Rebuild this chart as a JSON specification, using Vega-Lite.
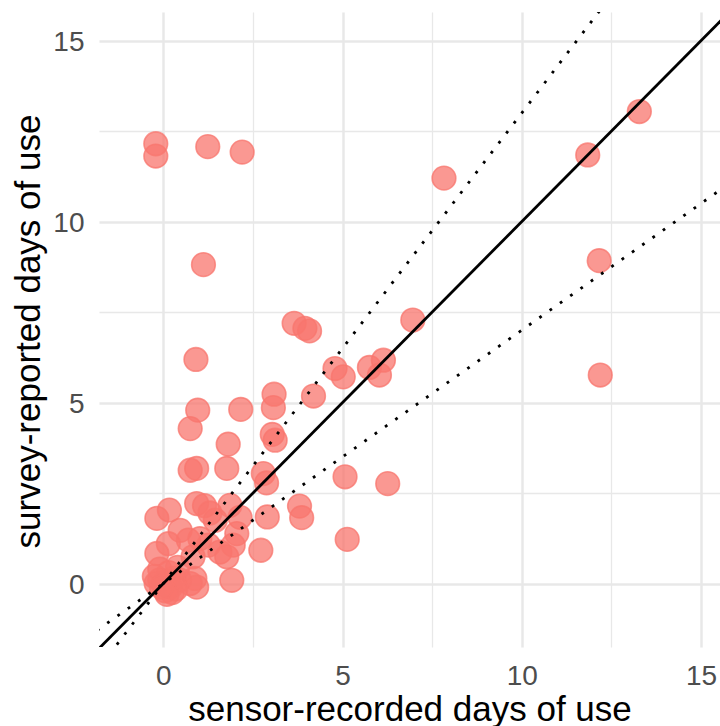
{
  "$schema": "https://vega.github.io/schema/vega-lite/v6.json",
  "width": 621,
  "height": 635,
  "autosize": {"type": "none"},
  "padding": {"left": 99, "top": 12, "right": 0, "bottom": 79},
  "background": "white",
  "config": {
    "view": {"stroke": null},
    "font": "Liberation Sans",
    "axis": {
      "domain": false,
      "ticks": false,
      "gridColor": "#E8E8E8",
      "labelFont": "Liberation Sans",
      "labelFontSize": 28,
      "labelColor": "#4D4D4D",
      "labelPadding": 15,
      "titleFont": "Liberation Sans",
      "titleFontSize": 35,
      "titleFontWeight": "normal",
      "titleColor": "#000000"
    }
  },
  "datasets": {
    "pts": [
      {"sensor": -0.21, "survey": 12.15}, {"sensor": -0.21, "survey": 11.81},
      {"sensor": 1.24, "survey": 12.07}, {"sensor": 2.2, "survey": 11.92},
      {"sensor": 1.12, "survey": 8.81}, {"sensor": 7.83, "survey": 11.2},
      {"sensor": 11.84, "survey": 11.84}, {"sensor": 13.28, "survey": 13.04},
      {"sensor": 12.16, "survey": 8.92}, {"sensor": 12.19, "survey": 5.76},
      {"sensor": 3.65, "survey": 7.19}, {"sensor": 3.95, "survey": 7.05},
      {"sensor": 4.08, "survey": 6.98}, {"sensor": 6.96, "survey": 7.28},
      {"sensor": 4.79, "survey": 5.94}, {"sensor": 5.02, "survey": 5.71},
      {"sensor": 5.75, "survey": 5.97}, {"sensor": 6.14, "survey": 6.17},
      {"sensor": 6.03, "survey": 5.76}, {"sensor": 4.19, "survey": 5.18},
      {"sensor": 0.91, "survey": 6.19}, {"sensor": 0.96, "survey": 4.79},
      {"sensor": 0.75, "survey": 4.28}, {"sensor": 2.16, "survey": 4.81},
      {"sensor": 3.09, "survey": 5.23}, {"sensor": 3.07, "survey": 4.86},
      {"sensor": 3.04, "survey": 4.12}, {"sensor": 3.12, "survey": 3.96},
      {"sensor": 1.81, "survey": 3.85}, {"sensor": 0.75, "survey": 3.13},
      {"sensor": 0.93, "survey": 3.18}, {"sensor": 1.77, "survey": 3.18},
      {"sensor": 2.79, "survey": 3.04}, {"sensor": 2.88, "survey": 2.78},
      {"sensor": 5.07, "survey": 2.95}, {"sensor": 6.26, "survey": 2.76},
      {"sensor": 3.8, "survey": 2.14}, {"sensor": 3.86, "survey": 1.82},
      {"sensor": 2.9, "survey": 1.84}, {"sensor": 2.72, "survey": 0.92},
      {"sensor": 5.13, "survey": 1.22}, {"sensor": 2.14, "survey": 1.83},
      {"sensor": 2.05, "survey": 1.38},
      {"sensor": -0.18, "survey": 1.8}, {"sensor": 0.17, "survey": 2.03},
      {"sensor": 0.93, "survey": 2.21}, {"sensor": 1.15, "survey": 2.15},
      {"sensor": 1.86, "survey": 2.16}, {"sensor": 1.45, "survey": 1.75},
      {"sensor": 1.3, "survey": 1.95}, {"sensor": 0.47, "survey": 1.47},
      {"sensor": 1.02, "survey": 1.24}, {"sensor": 1.26, "survey": 1.06},
      {"sensor": 0.7, "survey": 1.2}, {"sensor": 0.14, "survey": 1.1},
      {"sensor": -0.18, "survey": 0.83}, {"sensor": 1.58, "survey": 0.87},
      {"sensor": 1.95, "survey": 1.06}, {"sensor": 1.77, "survey": 0.74},
      {"sensor": 0.83, "survey": 0.74}, {"sensor": 0.88, "survey": 0.14},
      {"sensor": 0.93, "survey": -0.1}, {"sensor": 1.91, "survey": 0.09},
      {"sensor": 0.75, "survey": 0.0},
      {"sensor": 0.0, "survey": 0.0}, {"sensor": 0.1, "survey": 0.05},
      {"sensor": -0.1, "survey": 0.1}, {"sensor": 0.2, "survey": -0.1},
      {"sensor": 0.05, "survey": -0.2}, {"sensor": -0.2, "survey": 0.0},
      {"sensor": 0.3, "survey": 0.15}, {"sensor": 0.15, "survey": 0.3},
      {"sensor": 0.45, "survey": 0.1}, {"sensor": 0.25, "survey": -0.25},
      {"sensor": -0.1, "survey": 0.4}, {"sensor": 0.35, "survey": -0.15},
      {"sensor": -0.25, "survey": 0.2}, {"sensor": 0.1, "survey": -0.3},
      {"sensor": 0.4, "survey": 0.45}, {"sensor": -0.05, "survey": -0.1}
    ],
    "lines": [
      {"line": "equal", "sx": -3, "sy": -3},
      {"line": "equal", "sx": 17, "sy": 17},
      {"line": "upper", "sx": -3, "sy": -3.9},
      {"line": "upper", "sx": 14, "sy": 18.2},
      {"line": "lower", "sx": -3, "sy": -2.1},
      {"line": "lower", "sx": 17, "sy": 11.9}
    ]
  },
  "encoding": {
    "x": {
      "field": "sensor", "type": "quantitative",
      "scale": {"domain": [-1.794, 15.53], "nice": false, "zero": false},
      "axis": {
        "title": "sensor-recorded days of use",
        "values": [0, 2.5, 5, 7.5, 10, 12.5, 15],
        "labelExpr": "datum.value % 5 === 0 ? datum.label : ''",
        "gridWidth": {"condition": {"test": "datum.value % 5 === 0", "value": 2.5}, "value": 1.3},
        "labelBaseline": "top",
        "titleBaseline": "alphabetic",
        "titleY": 73
      }
    },
    "y": {
      "field": "survey", "type": "quantitative",
      "scale": {"domain": [-1.753, 15.79], "nice": false, "zero": false},
      "axis": {
        "title": "survey-reported days of use",
        "values": [0, 2.5, 5, 7.5, 10, 12.5, 15],
        "labelExpr": "datum.value % 5 === 0 ? datum.label : ''",
        "gridWidth": {"condition": {"test": "datum.value % 5 === 0", "value": 2.5}, "value": 1.3},
        "labelBaseline": "alphabetic",
        "labelOffset": 10,
        "titleAngle": -90,
        "titleBaseline": "alphabetic",
        "titleX": -59.5,
        "titleY": 319
      }
    }
  },
  "layer": [
    {
      "data": {"name": "pts"},
      "mark": {
        "type": "point", "shape": "circle", "filled": true,
        "size": 560, "fill": "#F8766D", "fillOpacity": 0.75,
        "stroke": "#F8766D", "strokeOpacity": 0.75, "strokeWidth": 1.6
      }
    },
    {
      "data": {"name": "lines"},
      "transform": [{"filter": "datum.line === 'equal'"}],
      "mark": {"type": "line", "color": "#000000", "strokeWidth": 2.8, "clip": true},
      "encoding": {
        "x": {"field": "sx", "type": "quantitative"},
        "y": {"field": "sy", "type": "quantitative"},
        "detail": {"field": "line"}
      }
    },
    {
      "data": {"name": "lines"},
      "transform": [{"filter": "datum.line !== 'equal'"}],
      "mark": {"type": "line", "color": "#000000", "strokeWidth": 2.8, "strokeDash": [2.8, 9.8], "clip": true},
      "encoding": {
        "x": {"field": "sx", "type": "quantitative"},
        "y": {"field": "sy", "type": "quantitative"},
        "detail": {"field": "line"}
      }
    }
  ]
}
